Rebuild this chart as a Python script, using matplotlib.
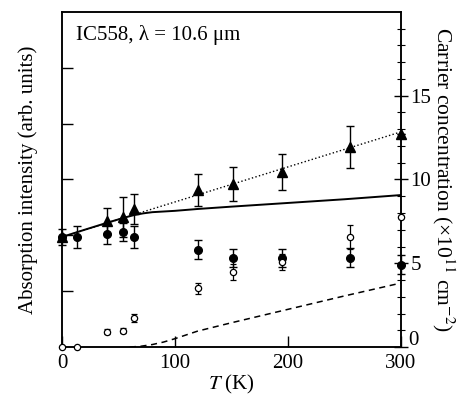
import matplotlib
matplotlib.use('Agg')
import matplotlib.pyplot as plt
import numpy as np

plt.rcParams['font.family'] = ['Liberation Serif', 'DejaVu Serif']
plt.rcParams['mathtext.fontset'] = 'stix'

# Temperatures (K)
T_pts = np.array([0, 13, 40, 54, 64, 120, 151, 195, 255, 300])

# Triangles: carrier concentration (x10^11 cm^-2), right axis
T_tri = np.array([0, 40, 54, 64, 120, 151, 195, 255, 300])
n_tri = np.array([6.57, 7.52, 7.76, 8.24, 9.37, 9.73, 10.45, 11.94, 12.72])
n_tri_err = np.array([0.5, 0.75, 1.2, 0.87, 0.95, 1.0, 1.1, 1.28, 0.0])

# Filled circles: absorption intensity (arb. units), left axis
I_fill = np.array([1.97, 1.97, 2.03, 2.06, 1.97, 1.74, 1.60, 1.60, 1.60, 1.47])
I_fill_err = np.array([0.0, 0.2, 0.18, 0.17, 0.2, 0.17, 0.16, 0.16, 0.17, 0.17])

# Open circles: carrier concentration, right axis
n_open = np.array([0.0, 0.0, 0.9, 0.96, 1.73, 3.52, 4.48, 5.07, 6.57, 7.76])
n_open_err = np.array([0.0, 0.0, 0.15, 0.15, 0.25, 0.33, 0.48, 0.5, 0.69, 0.0])

# Fit curves (right axis units)
T_dot = np.array([0, 300])
n_dot = np.array([6.57, 12.84])

T_solid = np.array([0, 20, 40, 55, 64, 72, 80, 90, 100, 120, 150, 200, 250, 300])
n_solid = np.array([6.57, 7.0, 7.42, 7.72, 7.88, 7.98, 8.05, 8.09, 8.13, 8.24, 8.38, 8.6, 8.82, 9.07])

T_dash = np.array([60, 70, 80, 90, 100, 120, 150, 200, 250, 300])
n_dash = np.array([0.0, 0.05, 0.15, 0.3, 0.5, 0.95, 1.45, 2.25, 3.05, 3.82])

fig = plt.figure(figsize=(4.61, 3.98), dpi=100)
ax = fig.add_axes([0.1345, 0.128, 0.735, 0.842])
ax2 = ax.twinx()

# left axis data
ax.errorbar(T_pts, I_fill, yerr=I_fill_err, fmt='o', color='black', ms=5.5,
            capsize=3, elinewidth=1, capthick=1, clip_on=False, zorder=5)

# right axis data
ax2.plot(T_dot, n_dot, ':', color='black', lw=1.0)
ax2.plot(T_solid, n_solid, '-', color='black', lw=1.4)
ax2.plot(T_dash, n_dash, '--', color='black', lw=1.1, dashes=(4, 3))
ax2.errorbar(T_tri, n_tri, yerr=n_tri_err, fmt='^', color='black', ms=6.5,
             capsize=3, elinewidth=1, capthick=1, clip_on=False, zorder=5)
ax2.errorbar(T_pts, n_open, yerr=n_open_err, fmt='o', mfc='white', mec='black',
             ecolor='black', ms=4.5, mew=0.9, capsize=2.5, elinewidth=0.9,
             capthick=0.9, clip_on=False, zorder=5)

ax.set_xlim(0, 300)
ax.set_ylim(0, 6)
ax2.set_ylim(0, 20)

ax.set_xticks([0, 100, 200, 300])
ax.set_yticks([1, 2, 3, 4, 5])
ax.set_yticklabels([])
ax.tick_params(axis='x', direction='in', length=8, width=1, labelsize=15, pad=5, top=False)
ax.tick_params(axis='y', direction='in', length=8, width=1, right=False)

ax2.set_yticks([0, 5, 10, 15])
ax2.set_yticklabels(['', '5', '10', '15'])
ax2.set_yticks(np.arange(1, 20), minor=True)
ax2.tick_params(axis='y', which='major', direction='inout', length=10, width=1,
                labelsize=15, pad=2)
ax2.tick_params(axis='y', which='minor', direction='inout', length=6, width=0.8)
# raised "0" at the lower right corner, clear of the "300" label
ax2.text(1.023, -0.01, '0', transform=ax2.transAxes, fontsize=15,
         ha='left', va='bottom')

for sp in list(ax.spines.values()) + list(ax2.spines.values()):
    sp.set_linewidth(1.1)

ax.set_xlabel('$T$ (K)', fontsize=15, labelpad=0)
ax.set_ylabel('Absorption intensity (arb. units)', fontsize=15, labelpad=14)
ax2.set_ylabel('Carrier concentration (\u00d710$^{11}$ cm$^{-2}$)', fontsize=15.5,
               rotation=-90, labelpad=18)

ax.text(0.04, 0.93, 'IC558, \u03bb = 10.6 \u03bcm', transform=ax.transAxes,
        fontsize=15, va='center', ha='left')

fig.savefig('out.png', dpi=100, facecolor='white')
